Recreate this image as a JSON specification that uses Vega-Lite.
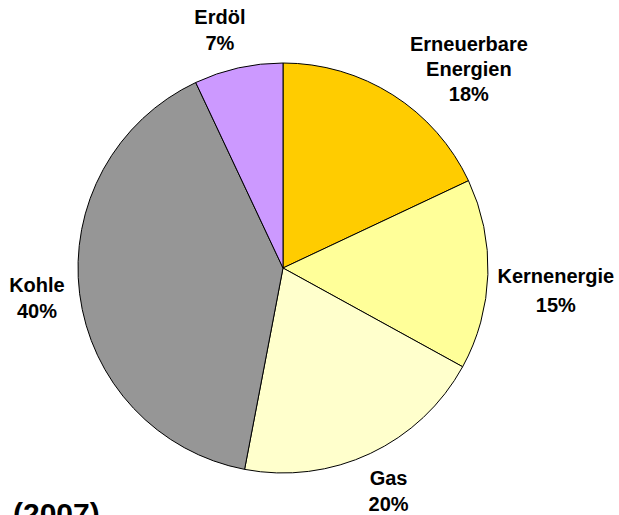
{
  "$schema": "https://vega.github.io/schema/vega-lite/v6.json",
  "width": 566,
  "height": 494,
  "autosize": {"type": "none"},
  "padding": {"left": 0, "right": 53, "top": 21, "bottom": 0},
  "background": "white",
  "title": {"text": "(2007)", "orient": "bottom", "anchor": "start", "frame": "group", "fontSize": 30, "font": "Liberation Sans", "fontWeight": "bold", "color": "black", "offset": -15, "dx": 13, "baseline": "top"},
  "data": {"values": [
    {"nr": 1, "Energietraeger": "Erneuerbare Energien", "Anteil": 18, "Label": "Erneuerbare\nEnergien\n18%"},
    {"nr": 2, "Energietraeger": "Kernenergie", "Anteil": 15, "Label": "Kernenergie\n15%"},
    {"nr": 3, "Energietraeger": "Gas", "Anteil": 20, "Label": "Gas\n20%"},
    {"nr": 4, "Energietraeger": "Kohle", "Anteil": 40, "Label": "Kohle\n40%"},
    {"nr": 5, "Energietraeger": "Erdöl", "Anteil": 7, "Label": "Erdöl\n7%"}
  ]},
  "encoding": {
    "theta": {"field": "Anteil", "type": "quantitative", "stack": true},
    "order": {"field": "nr", "type": "quantitative"}
  },
  "layer": [
    {
      "mark": {"type": "arc", "radius": 205, "stroke": "black", "strokeWidth": 1},
      "encoding": {
        "color": {"field": "Energietraeger", "type": "nominal", "legend": null,
          "scale": {"domain": ["Erneuerbare Energien", "Kernenergie", "Gas", "Kohle", "Erdöl"],
                    "range": ["#FFCC00", "#FFFF99", "#FFFFCC", "#969696", "#CC99FF"]}}
      }
    },
    {
      "mark": {"type": "text", "radius": 248, "dy": -13, "font": "Liberation Sans", "fontWeight": "bold", "fontSize": 20, "lineBreak": "\n", "lineHeight": 26, "align": "center", "baseline": "middle", "color": "black"},
      "encoding": {"text": {"condition": {"test": "datum.nr == 3 || datum.nr == 4", "field": "Label"}, "value": ""}}
    },
    {
      "mark": {"type": "text", "radius": 248, "dx": -9, "dy": -8, "font": "Liberation Sans", "fontWeight": "bold", "fontSize": 20, "lineBreak": "\n", "lineHeight": 26, "align": "center", "baseline": "middle", "color": "black"},
      "encoding": {"text": {"condition": {"test": "datum.nr == 5", "field": "Label"}, "value": ""}}
    },
    {
      "mark": {"type": "text", "radius": 248, "dx": 53, "dy": -14, "font": "Liberation Sans", "fontWeight": "bold", "fontSize": 20, "lineBreak": "\n", "lineHeight": 25, "align": "center", "baseline": "middle", "color": "black"},
      "encoding": {"text": {"condition": {"test": "datum.nr == 1", "field": "Label"}, "value": ""}}
    },
    {
      "mark": {"type": "text", "radius": 248, "dx": 25, "dy": 1, "font": "Liberation Sans", "fontWeight": "bold", "fontSize": 20, "lineBreak": "\n", "lineHeight": 29, "align": "center", "baseline": "middle", "color": "black"},
      "encoding": {"text": {"condition": {"test": "datum.nr == 2", "field": "Label"}, "value": ""}}
    }
  ]
}
